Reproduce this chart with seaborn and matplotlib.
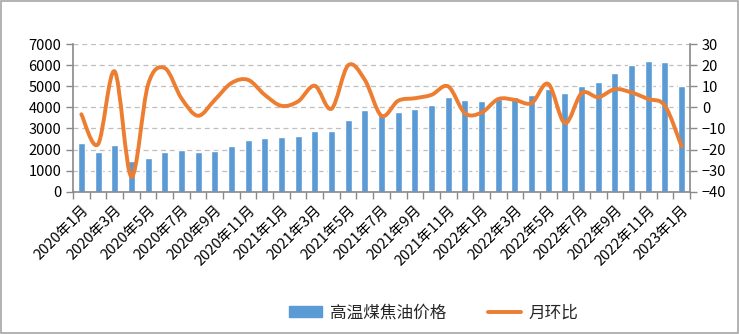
import numpy as np
import pandas as pd
import matplotlib
matplotlib.use("Agg")
import matplotlib.pyplot as plt
from matplotlib.path import Path
from matplotlib.patches import PathPatch, Rectangle, Patch
from matplotlib.lines import Line2D
import seaborn as sns

months = [f"{y}年{m}月" for y in (2020, 2021, 2022) for m in range(1, 13)] + ["2023年1月"]
prices = [2300, 1880, 2220, 1450, 1600, 1880, 1990, 1880, 1930, 2170,
          2450, 2550, 2600, 2640, 2880, 2880, 3400, 3880, 3640, 3800,
          3930, 4120, 4500, 4350, 4280, 4400, 4500, 4590, 4850, 4700,
          4990, 5210, 5640, 5990, 6210, 6160, 4990]
mom = [-3.3, -17.5, 17.0, -32.9, 10.7, 18.6, 4.3, -4.0, 3.5, 11.5,
       13.0, 5.9, 0.7, 2.8, 10.2, -0.7, 19.9, 13.0, -4.0, 3.1,
       4.3, 5.9, 9.9, -2.8, -2.5, 3.9, 3.5, 2.0, 11.1, -7.5,
       6.7, 4.8, 8.6, 7.0, 3.9, 0.7, -18.6]
bar_label = "高温煤焦油价格"
line_label = "月环比"

sns.set_theme(style="white")
plt.rcParams["font.family"] = ["Noto Sans CJK SC", "DejaVu Sans"]

BLUE = "#5B9BD5"
ORANGE = "#ED7D31"
AXC = "#898989"

fig = plt.figure(figsize=(7.39, 3.34), dpi=100)
ax = fig.add_axes([73 / 739, 1 - 191.7 / 334, (690 - 73) / 739, (191.7 - 44) / 334])

df = pd.DataFrame({"month": months, "price": prices})
sns.barplot(data=df, x="month", y="price", color=BLUE, width=0.42, ax=ax,
            saturation=1, zorder=2)
ax.set_xlim(-0.5, len(months) - 0.5)
ax.set_ylim(0, 7000)
ax.set_yticks(np.arange(0, 7001, 1000))
ax.set_xlabel("")
ax.set_ylabel("")
ax.yaxis.grid(True, linestyle=(0, (4, 3)), color="#BFBFBF", linewidth=0.9)
ax.set_axisbelow(True)

idx = np.arange(len(months))
ax.set_xticks(idx[::2])
ax.set_xticklabels(months[::2], rotation=45, ha="right", rotation_mode="anchor",
                   fontsize=10.5, color="#000000")
ax.set_xticks(np.arange(-0.5, len(months), 1), minor=True)
ax.tick_params(axis="x", which="major", length=0, pad=8)
ax.tick_params(axis="x", which="minor", length=5, color=AXC, width=1, direction="out", bottom=True)
ax.tick_params(axis="y", length=5, color=AXC, width=1, direction="out", left=True,
               labelsize=10.5, labelcolor="#000000")
for s in ("top", "right"):
    ax.spines[s].set_visible(False)
for s in ("left", "bottom"):
    ax.spines[s].set_color(AXC)
    ax.spines[s].set_linewidth(1.2)

ax2 = ax.twinx()
ax2.set_ylim(-40, 30)
ax2.set_yticks(np.arange(-40, 31, 10))
ax2.tick_params(axis="y", length=5, color=AXC, width=1, direction="out", right=True,
                labelsize=10.5, labelcolor="#000000")
for s in ("top", "left", "bottom"):
    ax2.spines[s].set_visible(False)
ax2.spines["right"].set_color(AXC)
ax2.spines["right"].set_linewidth(1.2)
ax2.grid(False)

# smoothed line (Excel-style Bezier through the data points)
pts = np.column_stack([idx, mom]).astype(float)
n = len(pts)
verts = [pts[0]]
codes = [Path.MOVETO]
for i in range(n - 1):
    p0 = pts[max(i - 1, 0)]
    p1 = pts[i]
    p2 = pts[i + 1]
    p3 = pts[min(i + 2, n - 1)]
    c1 = p1 + (p2 - p0) / 6.0
    c2 = p2 - (p3 - p1) / 6.0
    verts += [c1, c2, p2]
    codes += [Path.CURVE4] * 3
ax2.add_patch(PathPatch(Path(verts, codes), fill=False, edgecolor=ORANGE,
                        linewidth=2.8, capstyle="round", joinstyle="round", zorder=3))

handles = [Patch(facecolor=BLUE, edgecolor=BLUE, label=bar_label),
           Line2D([0], [0], color=ORANGE, linewidth=2.8, label=line_label)]
fig.legend(handles=handles, loc="center", bbox_to_anchor=(0.587, 1 - 313 / 334),
           ncol=2, frameon=False, fontsize=12, handlelength=2.0, handleheight=0.6,
           columnspacing=2.5, handletextpad=0.45)

fig.patches.append(Rectangle((0.001, 0.002), 0.997, 0.995, transform=fig.transFigure,
                             fill=False, edgecolor="#A6A6A6", linewidth=1.2))

fig.savefig("out.png", dpi=100)
